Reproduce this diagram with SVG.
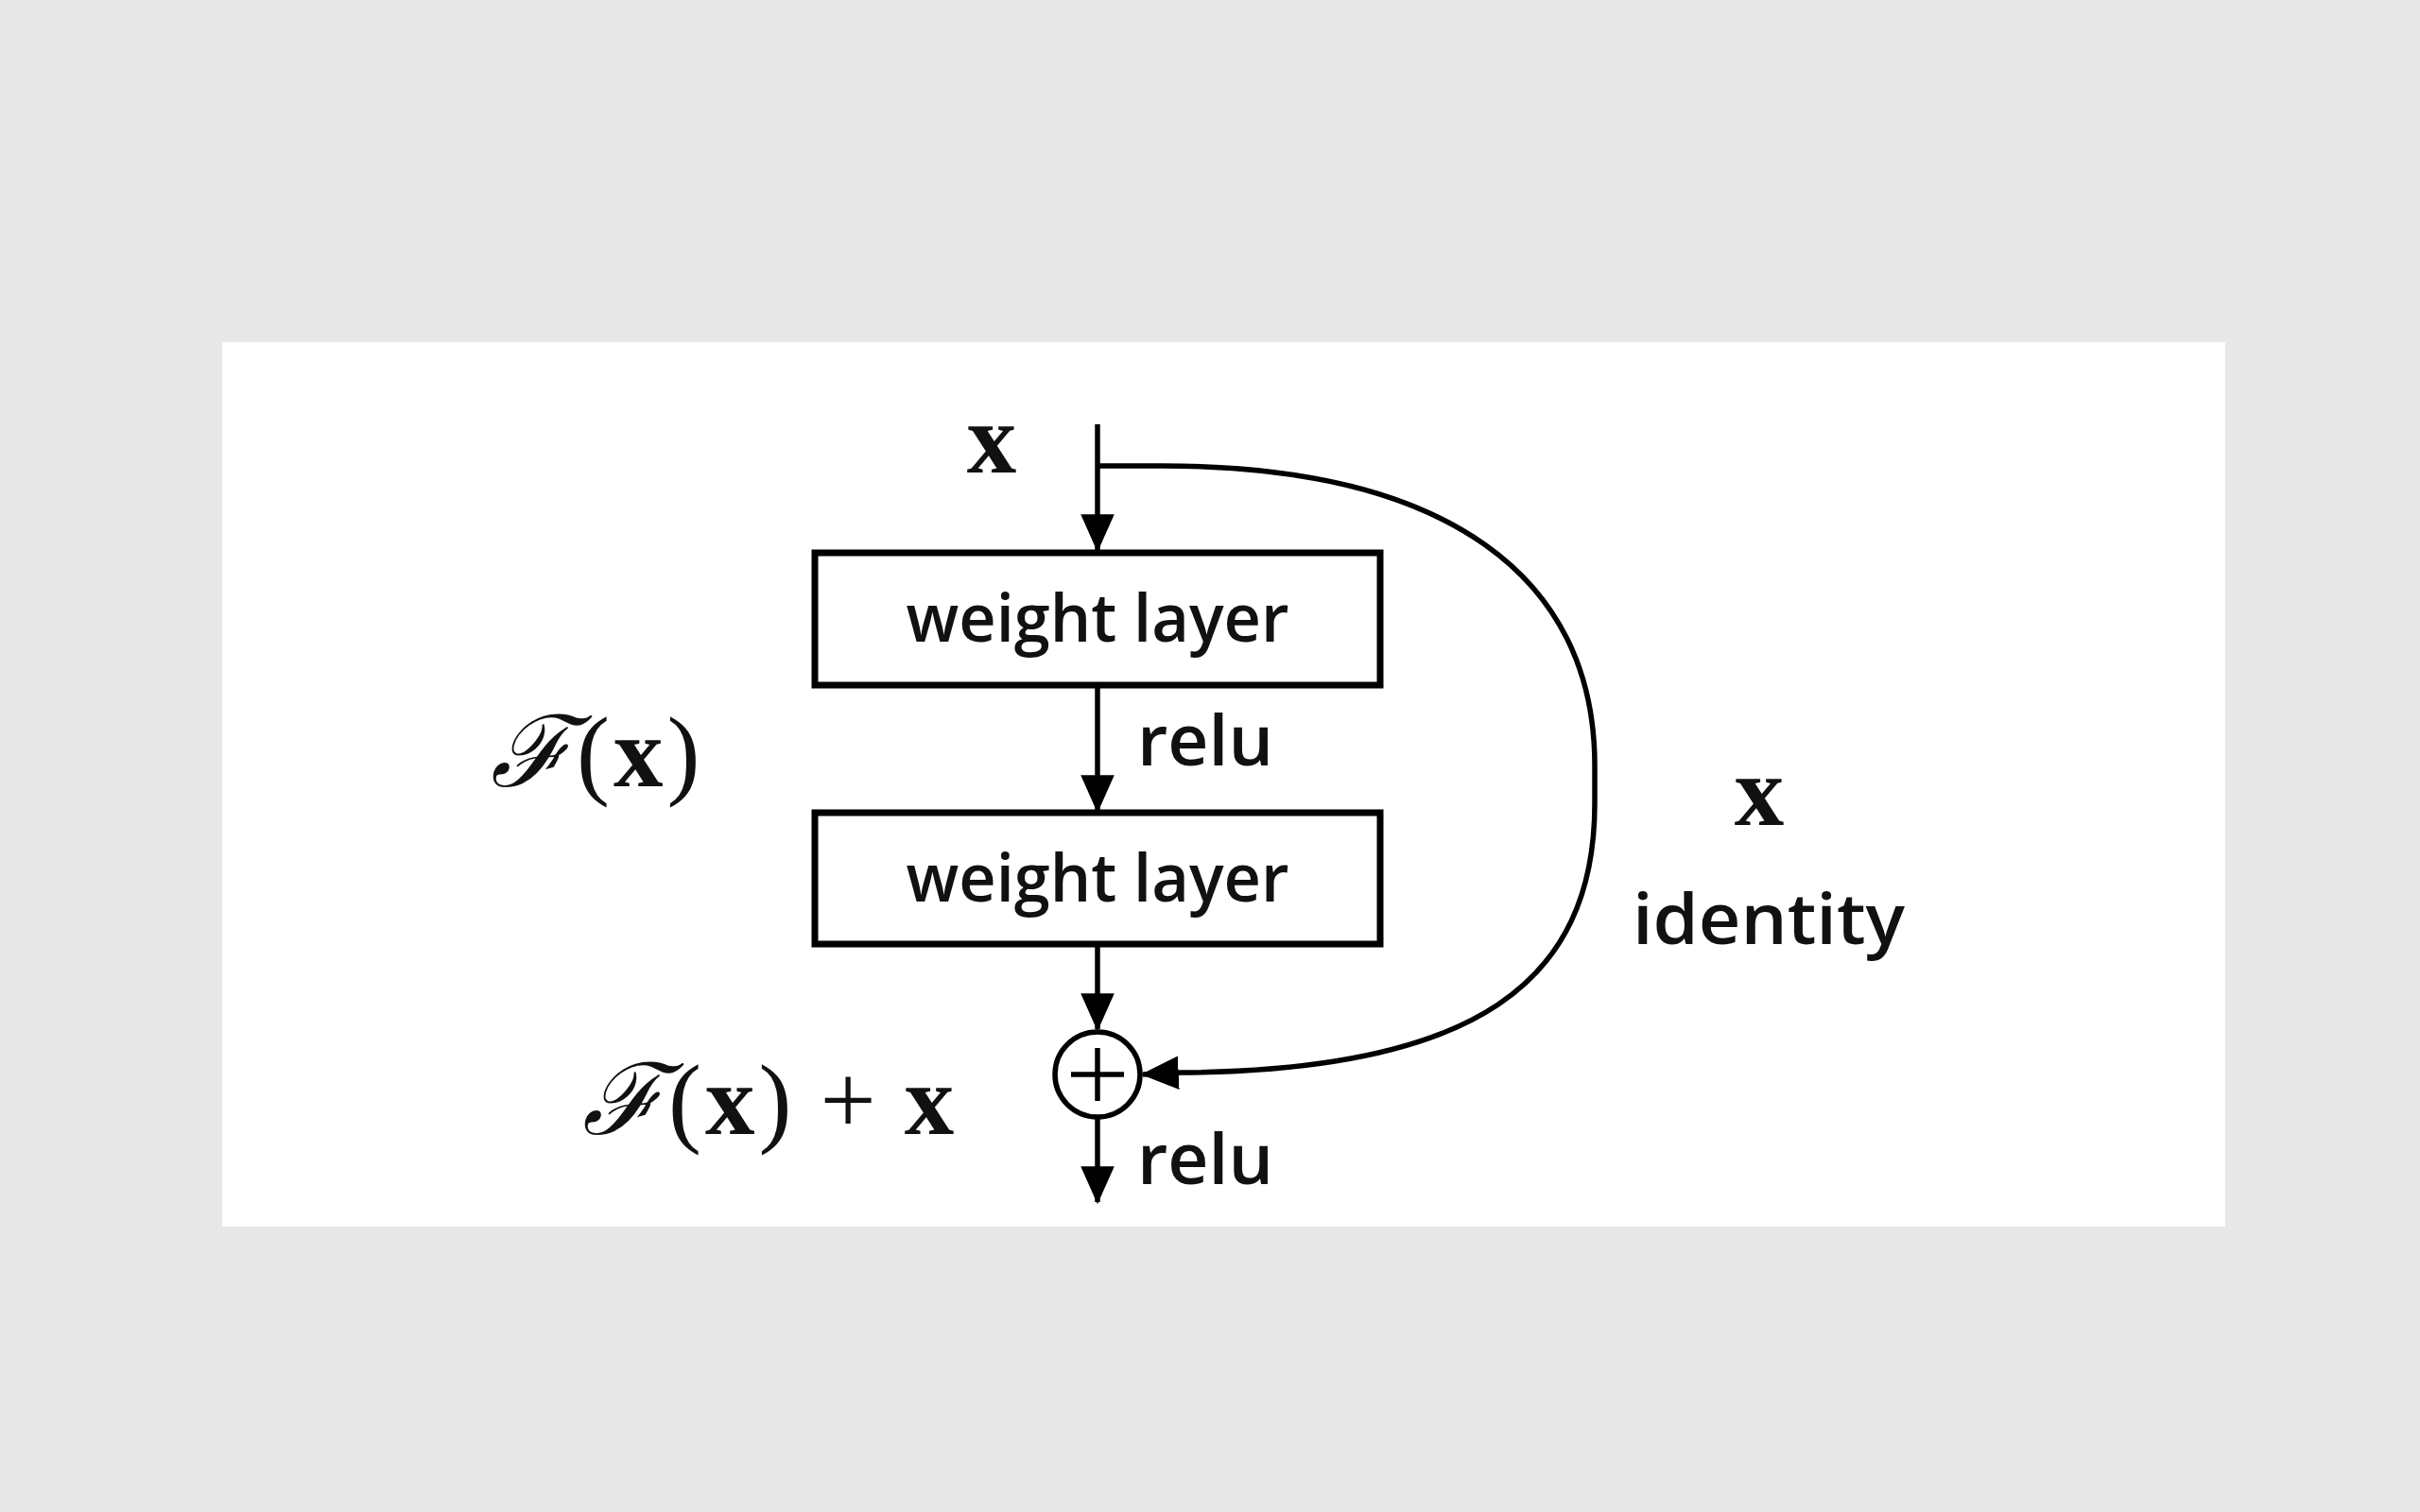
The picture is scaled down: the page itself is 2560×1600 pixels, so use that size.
<svg xmlns="http://www.w3.org/2000/svg" width="2560" height="1600" viewBox="0 0 2560 1600">
<style>
.box{fill:#fff;stroke:#000;stroke-width:7}
.lbl{font-family:"Open Sans","Liberation Sans",sans-serif;font-weight:600;fill:#111}
.math{font-family:"Liberation Serif","DejaVu Serif",serif;fill:#111}
.wire{fill:none;stroke:#000;stroke-width:5.5}
</style>
<defs>
<marker id="ah" markerUnits="userSpaceOnUse" markerWidth="40" markerHeight="40" viewBox="0 0 36 32" refX="34" refY="16" orient="auto">
<path d="M0,0 L36,16 L0,32 Z" fill="#000"/>
</marker>
</defs>
<rect x="0" y="0" width="2560" height="1600" fill="#e8e8e8"/>
<rect x="235" y="362" width="2119" height="936" fill="#fff"/>
<g id="connectors">
<line class="wire" x1="1161" y1="449" x2="1161" y2="582" marker-end="url(#ah)"/>
<line class="wire" x1="1161" y1="725" x2="1161" y2="858" marker-end="url(#ah)"/>
<line class="wire" x1="1161" y1="999" x2="1161" y2="1089" marker-end="url(#ah)"/>
<line class="wire" x1="1161" y1="1183" x2="1161" y2="1272" marker-end="url(#ah)"/>
<path class="wire" d="M1161,493 L1230,493 C1530,493 1687,610 1687,810 L1687,850 C1687,1040 1560,1133 1250,1135 L1209,1137" marker-end="url(#ah)"/>
</g>
<g id="weight1">
<rect class="box" x="862" y="585" width="598" height="140"/>
<text class="lbl" x="1161" y="679" font-size="70" text-anchor="middle" textLength="405" lengthAdjust="spacingAndGlyphs">weight layer</text>
</g>
<g id="weight2">
<rect class="box" x="862" y="860" width="598" height="139"/>
<text class="lbl" x="1161" y="954" font-size="70" text-anchor="middle" textLength="405" lengthAdjust="spacingAndGlyphs">weight layer</text>
</g>
<g id="sum">
<circle cx="1161" cy="1137" r="45" fill="#fff" stroke="#000" stroke-width="5.5"/>
<line x1="1133" y1="1137" x2="1189" y2="1137" stroke="#000" stroke-width="5.5"/>
<line x1="1161" y1="1109" x2="1161" y2="1165" stroke="#000" stroke-width="5.5"/>
</g>
<g id="labels">
<text class="math" x="1049" y="500" font-size="105" font-weight="bold" text-anchor="middle">x</text>
<text class="lbl" x="1203" y="810" font-size="74" textLength="144" lengthAdjust="spacingAndGlyphs">relu</text>
<text class="lbl" x="1203" y="1253" font-size="74" textLength="144" lengthAdjust="spacingAndGlyphs">relu</text>
<text class="math" x="1861" y="873" font-size="105" font-weight="bold" text-anchor="middle">x</text>
<text class="lbl" x="1727" y="999" font-size="74" textLength="288" lengthAdjust="spacingAndGlyphs">identity</text>
<text class="math" x="519" y="832" font-size="105"><tspan font-style="italic" font-family="DejaVu Serif, serif">ℱ</tspan><tspan dx="4" font-weight="normal">(</tspan><tspan dx="4" font-weight="bold">x</tspan><tspan dx="4">)</tspan></text>
<text class="math" x="616" y="1200" font-size="105"><tspan font-style="italic" font-family="DejaVu Serif, serif">ℱ</tspan><tspan dx="4">(</tspan><tspan dx="4" font-weight="bold">x</tspan><tspan dx="4">)</tspan><tspan dx="30">+</tspan><tspan dx="30" font-weight="bold">x</tspan></text>
</g>
</svg>
